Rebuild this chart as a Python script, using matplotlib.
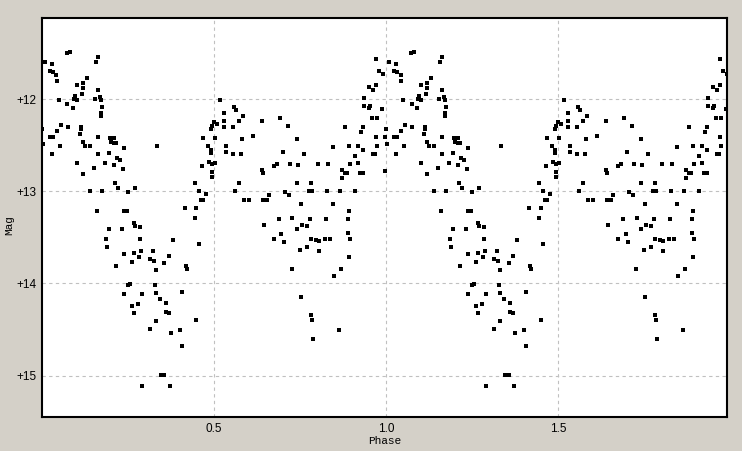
import numpy as np
import matplotlib.pyplot as plt

# phase-folded light curve (one cycle, drawn twice)
phase = [
    0.008, 0.030, 0.024, 0.033, 0.042, 0.043, 0.072, 0.082, 0.164, 0.158,
    0.130, 0.101, 0.118, 0.118, 0.049, 0.093, 0.102, 0.095, 0.115, 0.153,
    0.168, 0.171, 0.163, 0.074, 0.091, 0.173, 0.171, 0.171, 0.001, 0.024,
    0.033, 0.043, 0.055, 0.076, 0.113, 0.113, 0.111, 0.004, 0.053, 0.030,
    0.118, 0.125, 0.139, 0.164, 0.198, 0.210, 0.200, 0.208, 0.215, 0.237,
    0.164, 0.195, 0.218, 0.227, 0.208, 0.183, 0.101, 0.118, 0.150, 0.234,
    0.213, 0.220, 0.249, 0.139, 0.173, 0.161, 0.237, 0.247,
    0.195, 0.233, 0.186, 0.188, 0.239, 0.214, 0.249, 0.237,
    0.335, 0.499, 0.494, 0.492, 0.468, 0.504, 0.483, 0.492, 0.490, 0.485,
    0.494, 0.502, 0.465, 0.494, 0.494, 0.444, 0.455, 0.476, 0.463, 0.468,
    0.415, 0.449, 0.444, 0.269,
    0.266, 0.271, 0.284, 0.284, 0.381, 0.455, 0.266, 0.281, 0.287, 0.261,
    0.313, 0.325, 0.322, 0.368, 0.356, 0.330, 0.418, 0.421, 0.257, 0.327,
    0.407, 0.290, 0.330, 0.342, 0.359, 0.261, 0.279, 0.266, 0.359, 0.369,
    0.330, 0.449, 0.313, 0.374, 0.400, 0.407, 0.345, 0.356, 0.290, 0.371,
    0.517, 0.528, 0.557, 0.563, 0.583, 0.509, 0.528, 0.528, 0.555, 0.572,
    0.640, 0.691, 0.716, 0.582, 0.612, 0.742, 0.534, 0.534, 0.555, 0.577,
    0.699, 0.573, 0.638, 0.641, 0.675, 0.683, 0.720, 0.745, 0.742, 0.560,
    0.586, 0.602, 0.641, 0.654, 0.659, 0.706, 0.718, 0.754, 0.688, 0.728,
    0.645, 0.742, 0.696, 0.674, 0.703, 0.750, 0.727, 0.752,
    0.971, 0.980, 0.992, 0.950, 0.963, 0.971, 0.936, 0.937, 0.951, 0.954,
    0.989, 0.960, 0.974, 0.881, 0.934, 0.927, 0.971, 0.997, 0.847, 0.892,
    0.919, 0.932, 0.974, 0.762, 0.909, 0.961, 0.968, 0.801, 0.830, 0.895,
    0.919, 0.872, 0.880, 0.885, 0.924, 0.934, 0.997, 0.871, 0.782, 0.776,
    0.784, 0.829, 0.866, 0.910, 0.847, 0.892, 0.779, 0.825, 0.888,
    0.756, 0.771, 0.888, 0.782, 0.795, 0.805, 0.822, 0.837, 0.895, 0.771,
    0.805, 0.892, 0.869, 0.849, 0.782, 0.785, 0.863, 0.788,
]
mag = [
    11.60, 11.62, 11.70, 11.71, 11.74, 11.80, 11.50, 11.49, 11.54, 11.60,
    11.77, 11.85, 11.83, 11.88, 12.01, 12.00, 12.01, 11.97, 11.95, 12.00,
    11.98, 12.01, 11.90, 12.05, 12.10, 12.09, 12.15, 12.18, 12.33, 12.41,
    12.41, 12.35, 12.28, 12.30, 12.30, 12.33, 12.38, 12.49, 12.51, 12.60,
    12.47, 12.51, 12.51, 12.41, 12.42, 12.42, 12.47, 12.48, 12.48, 12.53,
    12.60, 12.58, 12.64, 12.66, 12.71, 12.69, 12.69, 12.81, 12.75, 12.76,
    12.91, 12.97, 13.01, 13.00, 13.00, 13.21, 13.21, 13.21,
    13.41, 13.41, 13.52, 13.61, 13.68, 13.81, 14.02, 14.11,
    12.51, 12.25, 12.29, 12.33, 12.42, 12.42, 12.51, 12.55, 12.58, 12.68,
    12.70, 12.69, 12.73, 12.79, 12.85, 12.91, 13.00, 13.03, 13.10, 13.10,
    13.18, 13.18, 13.29, 12.97,
    13.35, 13.38, 13.39, 13.52, 13.53, 13.57, 13.67, 13.71, 13.65, 13.77,
    13.74, 13.76, 13.65, 13.70, 13.78, 13.85, 13.81, 13.84, 14.01, 14.02,
    14.09, 14.11, 14.10, 14.17, 14.21, 14.25, 14.22, 14.32, 14.31, 14.32,
    14.41, 14.40, 14.50, 14.54, 14.51, 14.68, 14.99, 14.99, 15.11, 15.11,
    12.01, 12.15, 12.09, 12.12, 12.18, 12.27, 12.24, 12.30, 12.30, 12.24,
    12.24, 12.21, 12.29, 12.43, 12.40, 12.43, 12.51, 12.57, 12.60, 12.60,
    12.57, 12.91, 12.77, 12.80, 12.73, 12.70, 12.70, 12.72, 12.91, 13.00,
    13.10, 13.10, 13.10, 13.10, 13.04, 13.01, 13.04, 13.14, 13.30, 13.29,
    13.37, 13.41, 13.46, 13.52, 13.55, 13.64, 13.84, 14.15,
    11.57, 11.70, 11.73, 11.87, 11.90, 11.85, 11.99, 12.07, 12.10, 12.07,
    12.11, 12.20, 12.21, 12.30, 12.30, 12.36, 12.41, 12.41, 12.52, 12.51,
    12.51, 12.55, 12.51, 12.60, 12.62, 12.60, 12.60, 12.70, 12.70, 12.70,
    12.69, 12.77, 12.80, 12.80, 12.80, 12.80, 12.78, 12.86, 12.91, 13.00,
    13.00, 13.00, 13.00, 13.00, 13.14, 13.21, 13.30, 13.30, 13.30,
    13.37, 13.38, 13.45, 13.52, 13.53, 13.54, 13.52, 13.52, 13.52, 13.61,
    13.65, 13.71, 13.84, 13.92, 14.34, 14.40, 14.51, 14.60,
]

x_ticks = [0.5, 1.0, 1.5]
x_tick_labels = ['0.5', '1.0', '1.5']
y_ticks = [12, 13, 14, 15]
y_tick_labels = ['+12', '+13', '+14', '+15']

p = np.array(phase)
m = np.array(mag)

fig = plt.figure(figsize=(7.42, 4.51), dpi=100, facecolor='#d4d0c8')
ax = fig.add_axes([42 / 742, 1 - 417 / 451, (726.7 - 42) / 742, (417 - 18) / 451])
ax.set_facecolor('white')

ax.plot(np.concatenate([p, p + 1]), np.concatenate([m, m]), 's',
        color='black', markersize=2.9, markeredgewidth=0, zorder=3)

ax.set_xlim(0, 1.99)
ax.set_ylim(15.45, 11.12)
ax.set_xticks(x_ticks)
ax.set_xticklabels(x_tick_labels, family='Liberation Sans', fontsize=8.5)
ax.set_yticks(y_ticks)
ax.set_yticklabels(y_tick_labels, family='Liberation Sans', fontsize=8.5)
ax.tick_params(length=0, pad=4)
ax.grid(True, color='#c0c0c0', linestyle=(0, (3, 3)), linewidth=0.8)
for s in ax.spines.values():
    s.set_linewidth(1.5)
    s.set_color('black')

fig.text(385 / 742, 1 - 441 / 451, 'Phase', family='Liberation Mono',
         fontsize=8, ha='center', va='center')
fig.text(9 / 742, 1 - 225 / 451, 'Mag', family='Liberation Mono',
         fontsize=8, ha='center', va='center', rotation=90)

fig.savefig('out.png', dpi=100, facecolor=fig.get_facecolor())
